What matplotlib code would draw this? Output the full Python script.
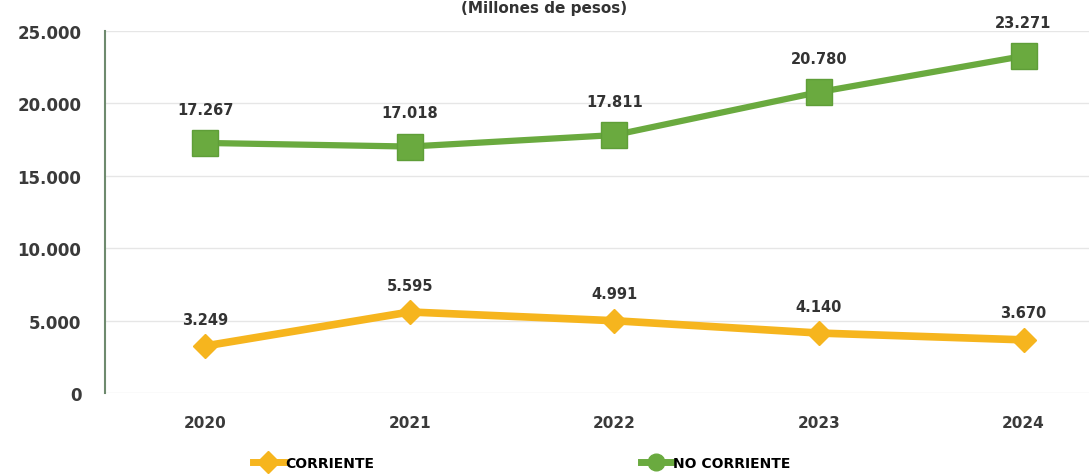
import matplotlib
matplotlib.use("Agg")
import matplotlib.pyplot as plt
from matplotlib.lines import Line2D
from matplotlib.ticker import FuncFormatter

years = ["2020", "2021", "2022", "2023", "2024"]
corriente = [3249, 5595, 4991, 4140, 3670]
no_corriente = [17267, 17018, 17811, 20780, 23271]
corriente_labels = ["3.249", "5.595", "4.991", "4.140", "3.670"]
no_corriente_labels = ["17.267", "17.018", "17.811", "20.780", "23.271"]
title_text = "(Millones de pesos)"

plt.rcParams['font.family'] = ['DejaVu Sans']

ORANGE = "#F6B51E"
GREEN = "#6AAA3F"
TXT = "#333333"

fig = plt.figure(figsize=(10.89, 4.77), dpi=100)
ax = fig.add_axes([0.0964, 0.174, 0.9036, 0.759])

x = list(range(len(years)))
ax.plot(x, no_corriente, color=GREEN, lw=4.5, marker='s', ms=19,
        mfc=GREEN, mec="#5F9E38", zorder=3)
ax.plot(x, corriente, color=ORANGE, lw=5.5, marker='D', ms=12,
        mfc=ORANGE, mec=ORANGE, zorder=3)

for xi, v, s in zip(x, no_corriente, no_corriente_labels):
    ax.annotate(s, (xi, v), xytext=(0, 19), textcoords='offset points',
                ha='center', va='bottom', fontsize=10.5, fontweight='bold', color=TXT)
for xi, v, s in zip(x, corriente, corriente_labels):
    ax.annotate(s, (xi, v), xytext=(0, 14), textcoords='offset points',
                ha='center', va='bottom', fontsize=10.5, fontweight='bold', color=TXT)

ax.set_xlim(-0.49, 4.32)
ax.set_ylim(0, 25000)
ax.set_yticks([0, 5000, 10000, 15000, 20000, 25000])
ax.yaxis.set_major_formatter(FuncFormatter(lambda v, p: f"{int(v):,}".replace(",", ".")))
ax.set_xticks(x)
ax.set_xticklabels(years)
ax.grid(axis='y', color="#E6E6E6", lw=1)
ax.set_axisbelow(True)
for s in ['top', 'right', 'bottom']:
    ax.spines[s].set_visible(False)
ax.spines['left'].set_color("#6E8A6E")
ax.spines['left'].set_linewidth(1.5)
ax.tick_params(axis='both', length=0, colors="#3A3A3A")
ax.tick_params(axis='y', pad=17, labelsize=12)
ax.tick_params(axis='x', pad=16, labelsize=11)
for lab in ax.get_xticklabels() + ax.get_yticklabels():
    lab.set_fontweight('bold')

fig.text(0.5, 0.998, title_text, ha='center', va='top', fontsize=11,
         fontweight='bold', color=TXT)

handles = [
    Line2D([], [], color=ORANGE, lw=5, marker='D', ms=11, mfc=ORANGE, mec=ORANGE),
    Line2D([], [], color=GREEN, lw=5, marker='o', ms=12, mfc=GREEN, mec=GREEN),
]
fig.legend(handles, ["CORRIENTE", "NO CORRIENTE"], loc='center',
           bbox_to_anchor=(0.479, 0.027), ncol=2, frameon=False,
           handlelength=2.2, handletextpad=0.1,
           columnspacing=19.2, prop={'weight': 'bold', 'size': 10})

fig.savefig("out.png", dpi=100, facecolor="white")
